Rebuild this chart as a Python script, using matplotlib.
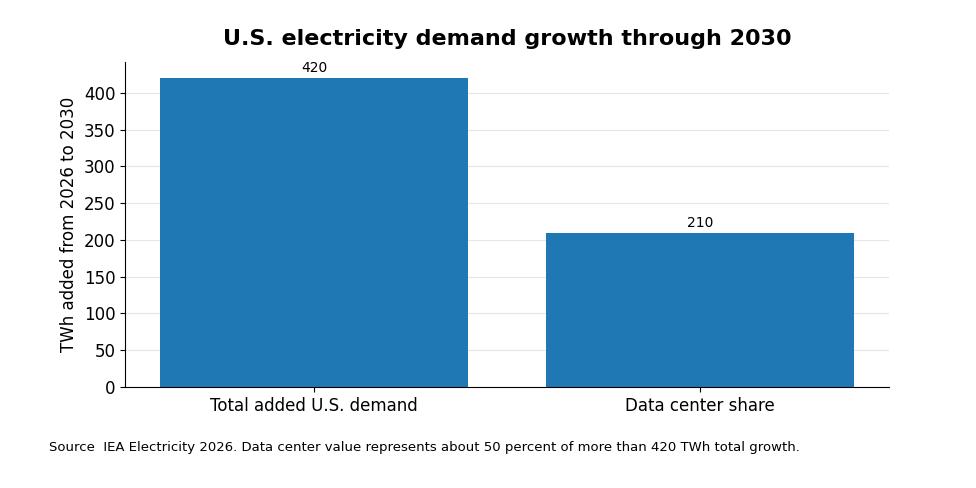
import matplotlib
matplotlib.use("Agg")
import matplotlib.pyplot as plt

categories = ["Total added U.S. demand", "Data center share"]
values = [420, 210]

fig = plt.figure(figsize=(9.76, 4.88), dpi=100)
ax = fig.add_axes([125/976, 1-387/488, (889-125)/976, (387-62)/488])
bars = ax.bar(range(len(categories)), values, width=0.8, color="#1f77b4", zorder=2)
for b, v in zip(bars, values):
    ax.text(b.get_x()+b.get_width()/2, v+4, f"{v}", ha="center", va="bottom", fontsize=10)
ax.set_xticks(range(len(categories)))
ax.set_xticklabels(categories, fontsize=12)
ax.set_xlim(-0.49, 1.49)
ax.set_ylim(0, 442)
ax.set_yticks(range(0, 401, 50))
ax.tick_params(axis="y", labelsize=12)
ax.yaxis.grid(True, color="#e6e6e6", linewidth=0.8, zorder=0)
ax.set_axisbelow(True)
for s in ["top", "right"]:
    ax.spines[s].set_visible(False)
ax.set_ylabel("TWh added from 2026 to 2030", fontsize=12)
fig.text(0.52, 1-39/488, "U.S. electricity demand growth through 2030", ha="center", va="center",
         fontsize=16, fontweight="bold")
fig.text(49/976, 1-448/488, "Source  IEA Electricity 2026. Data center value represents about 50 percent of more than 420 TWh total growth.",
         ha="left", va="center", fontsize=9.5)
fig.savefig("out.png", dpi=100)
